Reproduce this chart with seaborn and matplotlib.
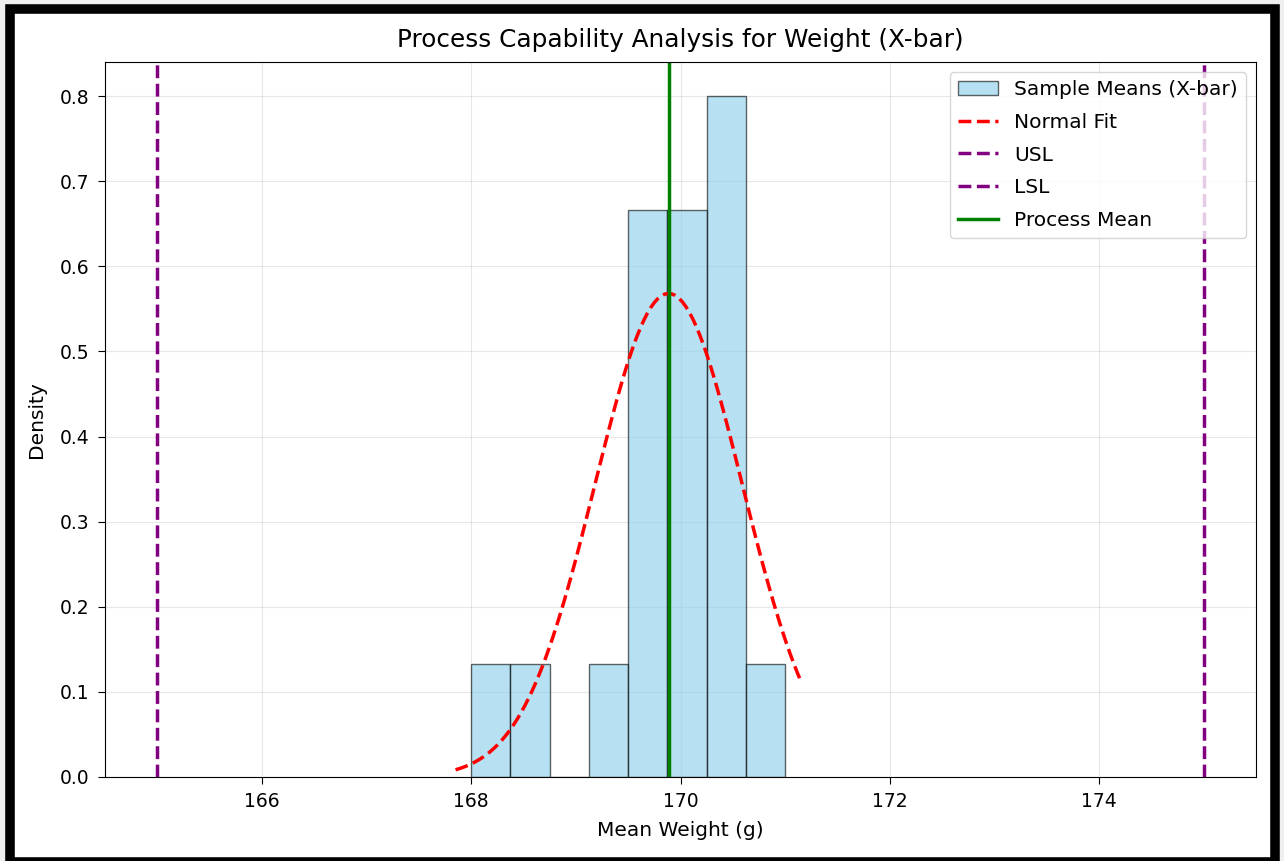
import numpy as np
import pandas as pd
import matplotlib
matplotlib.use("Agg")
import matplotlib.pyplot as plt
from matplotlib.patches import Rectangle
import seaborn as sns

# Sample means (X-bar) (20 subgroups)
sample_means = [168.00, 168.42, 169.15, 169.52, 169.58, 169.66, 169.74, 169.82,
                169.90, 169.97, 170.04, 170.12, 170.20, 170.27, 170.33, 170.40,
                170.47, 170.54, 170.60, 171.00]
usl = 175.0
lsl = 165.0
n_bins = 8

title = "Process Capability Analysis for Weight (X-bar)"
xlabel = "Mean Weight (g)"
ylabel = "Density"
legend_order = ["Sample Means (X-bar)", "Normal Fit", "USL", "LSL", "Process Mean"]

df = pd.DataFrame({"xbar": sample_means})
data = np.asarray(sample_means)
mu = data.mean()
sigma = data.std()

W, H = 1284, 861
fig = plt.figure(figsize=(W / 100, H / 100), dpi=100, facecolor="#efefef")
# white page with a thick black frame
fig.patches.append(Rectangle((9.5 / W, (H - 862) / H), (1275 - 9.5) / W, (862 - 8.5) / H,
                             transform=fig.transFigure, facecolor="white",
                             edgecolor="black", linewidth=6.9, zorder=-1))
ax = fig.add_axes([105 / W, 1 - 777 / H, (1256 - 105) / W, (777 - 62) / H])
ax.set_facecolor("white")

sns.histplot(data=df, x="xbar", bins=n_bins, stat="density", color="skyblue",
             alpha=0.6, edgecolor=(0, 0, 0, 0.6), linewidth=1.0, ax=ax,
             label="Sample Means (X-bar)")

rng = data.max() - data.min()
xs = np.linspace(data.min() - 0.05 * rng, data.max() + 0.05 * rng, 100)
pdf = np.exp(-0.5 * ((xs - mu) / sigma) ** 2) / (sigma * np.sqrt(2 * np.pi))
sns.lineplot(x=xs, y=pdf, color="red", linestyle="--", linewidth=2.5, ax=ax, label="Normal Fit")

ax.axvline(usl, color="purple", linestyle="--", linewidth=2.5, label="USL")
ax.axvline(lsl, color="purple", linestyle="--", linewidth=2.5, label="LSL")
ax.axvline(mu, color="green", linestyle="-", linewidth=2.5, label="Process Mean")

ax.set_xlim(164.5, 175.5)
ax.set_ylim(0, 0.84)
ax.set_xticks([166, 168, 170, 172, 174])
ax.set_yticks(np.arange(0, 0.81, 0.1))
ax.grid(True, alpha=0.3)
ax.set_axisbelow(True)
ax.tick_params(labelsize=13.5, length=5, pad=6)
ax.set_title(title, fontsize=17.8, pad=11)
ax.set_xlabel(xlabel, fontsize=14.5, labelpad=7)
ax.set_ylabel(ylabel, fontsize=14.5, labelpad=10)

handles, labels = ax.get_legend_handles_labels()
hmap = dict(zip(labels, handles))
ax.legend([hmap[l] for l in legend_order], legend_order, loc="upper right",
          fontsize=14.5, labelspacing=0.68)

fig.savefig("out.png", dpi=100, facecolor=fig.get_facecolor())
